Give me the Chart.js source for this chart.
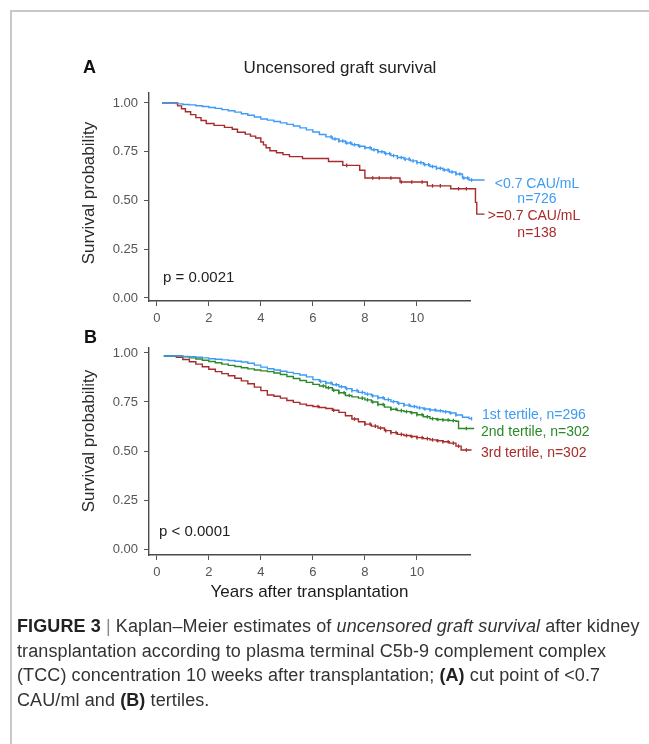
<!DOCTYPE html>
<html><head><meta charset="utf-8">
<script src="https://cdn.jsdelivr.net/npm/chart.js@4/dist/chart.umd.min.js"></script>
<style>
html,body{margin:0;padding:0;background:#fff;width:649px;height:744px;overflow:hidden;font-family:"Liberation Sans",Arial,sans-serif;}
#frame{position:absolute;left:10px;top:10px;width:700px;height:800px;border:2px solid #c8c8c8;box-sizing:border-box;}
canvas{position:absolute;left:0;}
#caption{position:absolute;left:17px;top:614px;width:640px;font-size:18px;letter-spacing:0.1px;line-height:24.7px;color:#333;white-space:nowrap;}
#caption b{font-weight:bold;color:#222;}
#caption .bar{color:#888;}
</style></head><body>
<div id="frame"></div>
<canvas id="cA" width="649" height="340" style="top:0;width:649px;height:340px"></canvas>
<canvas id="cB" width="649" height="300" style="top:310px;width:649px;height:300px"></canvas>
<div id="caption"><b>FIGURE 3</b> <span class="bar">|</span> Kaplan–Meier estimates of <i>uncensored graft survival</i> after kidney<br>transplantation according to plasma terminal C5b-9 complement complex<br>(TCC) concentration 10 weeks after transplantation; <b>(A)</b> cut point of &lt;0.7<br>CAU/ml and <b>(B)</b> tertiles.</div>
<script>
// ---------- DATA ----------
const xTicks = [0, 2, 4, 6, 8, 10];
const yTicks = [0, 0.25, 0.5, 0.75, 1];

// Panel A: <0.7 CAU/mL (n=726)
const timeA_low = [0.2,0.5,0.75,1,1.25,1.5,1.75,2,2.25,2.5,2.75,3,3.25,3.5,3.75,4,4.25,4.5,4.75,5,5.25,5.5,5.75,6,6.25,6.5,6.75,7,7.25,7.5,7.75,8,8.25,8.5,8.75,9,9.25,9.5,9.75,10,10.25,10.5,10.75,11,11.25,11.5,11.75,12,12.6];
const survA_low = [1.000,0.998,0.995,0.992,0.990,0.986,0.982,0.977,0.972,0.966,0.960,0.953,0.945,0.937,0.928,0.918,0.912,0.905,0.898,0.890,0.882,0.872,0.862,0.851,0.838,0.826,0.815,0.805,0.795,0.786,0.778,0.770,0.760,0.750,0.740,0.730,0.720,0.712,0.703,0.694,0.684,0.674,0.665,0.656,0.646,0.636,0.615,0.605,0.605];
const censA_low = [6.7,6.85,7.0,7.15,7.3,7.45,7.6,7.8,8.0,8.2,8.35,8.5,8.65,8.8,8.95,9.1,9.25,9.4,9.55,9.7,9.85,10.0,10.15,10.3,10.45,10.6,10.75,10.9,11.05,11.2,11.35,11.5,11.65,11.8,11.95,12.1,12.25,12.4,12.55];

// Panel A: >=0.7 CAU/mL (n=138)
const timeA_high = [0.2,0.8,0.95,1.1,1.3,1.5,1.7,1.9,2.2,2.6,2.9,3.1,3.4,3.6,3.8,4.0,4.1,4.2,4.35,4.6,4.85,5.1,5.6,6.6,7.15,7.8,8.0,9.35,10.4,11.3,12.25,12.3,12.6];
const survA_high = [1.000,0.985,0.970,0.955,0.940,0.925,0.910,0.895,0.885,0.875,0.865,0.850,0.840,0.830,0.820,0.800,0.785,0.770,0.755,0.745,0.735,0.725,0.715,0.700,0.680,0.655,0.615,0.595,0.575,0.560,0.490,0.430,0.430];
const censA_high = [7.3,8.3,8.55,9.0,9.4,9.8,10.2,10.6,10.9,11.6,11.9,12.45];

// Panel B: 1st tertile (n=296)
const timeB_1 = [0.27,0.75,1.0,1.25,1.5,1.75,2.0,2.25,2.5,2.75,3.0,3.25,3.5,3.75,4.0,4.25,4.5,4.75,5.0,5.25,5.5,5.75,6.0,6.25,6.5,6.75,7.0,7.25,7.5,7.75,8.0,8.25,8.5,8.75,9.0,9.25,9.5,9.75,10.0,10.25,10.5,10.75,11.0,11.25,11.5,11.75,12.0,12.1];
const survB_1 = [0.985,0.985,0.983,0.981,0.978,0.975,0.971,0.968,0.965,0.962,0.958,0.954,0.948,0.938,0.928,0.920,0.913,0.907,0.901,0.895,0.888,0.878,0.864,0.855,0.847,0.838,0.828,0.818,0.808,0.799,0.790,0.781,0.772,0.762,0.752,0.743,0.734,0.727,0.720,0.714,0.709,0.705,0.700,0.694,0.684,0.672,0.665,0.665];
const censB_1 = [6.3,6.5,6.7,6.9,7.1,7.3,7.5,7.7,7.9,8.1,8.3,8.5,8.7,8.9,9.1,9.3,9.5,9.7,9.9,10.1,10.3,10.5,10.7,10.9,11.1,11.3,11.5,12.1];

// Panel B: 2nd tertile (n=302)
const timeB_2 = [0.27,0.9,1.0,1.25,1.5,1.75,2.0,2.25,2.5,2.75,3.0,3.25,3.5,3.75,4.0,4.25,4.5,4.75,5.0,5.25,5.5,5.75,6.0,6.25,6.5,6.75,7.0,7.25,7.5,7.75,8.0,8.25,8.5,8.75,9.0,9.25,9.5,9.75,10.0,10.25,10.5,10.75,11.0,11.25,11.5,11.6,12.2];
const survB_2 = [0.985,0.985,0.980,0.975,0.969,0.963,0.957,0.950,0.943,0.937,0.931,0.925,0.919,0.913,0.909,0.905,0.898,0.890,0.880,0.870,0.860,0.850,0.840,0.832,0.823,0.810,0.797,0.783,0.776,0.770,0.761,0.750,0.737,0.724,0.713,0.706,0.701,0.695,0.685,0.675,0.665,0.661,0.658,0.655,0.652,0.615,0.615];
const censB_2 = [6.4,6.6,6.8,7.0,7.2,7.4,7.9,8.1,8.3,8.5,8.7,9.0,9.2,9.4,9.6,9.8,10.0,10.2,10.4,10.6,10.8,11.0,11.2,11.4,11.9];

// Panel B: 3rd tertile (n=302)
const timeB_3 = [0.27,0.65,0.75,1.0,1.25,1.5,1.75,2.0,2.25,2.5,2.75,3.0,3.25,3.5,3.75,4.0,4.25,4.5,4.75,5.0,5.25,5.5,5.75,6.0,6.25,6.5,6.75,7.0,7.25,7.5,7.75,8.0,8.25,8.5,8.75,9.0,9.25,9.5,9.75,10.0,10.25,10.5,10.75,11.0,11.25,11.5,11.7,12.1];
const survB_3 = [0.985,0.985,0.978,0.967,0.955,0.943,0.930,0.917,0.905,0.895,0.884,0.871,0.858,0.843,0.826,0.808,0.786,0.779,0.770,0.758,0.748,0.739,0.732,0.727,0.722,0.717,0.708,0.697,0.680,0.663,0.649,0.637,0.627,0.617,0.604,0.594,0.585,0.579,0.574,0.568,0.563,0.557,0.552,0.547,0.540,0.525,0.505,0.505];
const censB_3 = [6.2,6.8,7.6,8.0,8.2,8.4,8.6,8.8,9.0,9.2,9.4,9.6,9.8,10.0,10.2,10.4,10.6,10.8,11.0,11.2,11.4,11.6,11.9];

// ---------- COLOURS ----------
const BLUE = '#3d9bf5', RED = '#a82a2a', GREEN = '#2a8a2a';
const FONT = '"Liberation Sans", Arial, sans-serif';

function pts(t, s) { return t.map((x, i) => ({ x: x, y: s[i] })); }
function stepAt(t, s, c) { let v = s[0]; for (let i = 0; i < t.length; i++) { if (t[i] <= c) v = s[i]; } return v; }
function curve(t, s, color) {
  return { type: 'line', data: pts(t, s), borderColor: color, borderWidth: 1.4, stepped: true, pointRadius: 0, fill: false, clip: false };
}
function cens(t, s, c, color) {
  return { type: 'scatter', data: c.map(x => ({ x: x, y: stepAt(t, s, x) })), borderColor: color, backgroundColor: color,
    pointStyle: 'line', rotation: 90, pointRadius: 1.8, borderWidth: 1.3, clip: false, showLine: false };
}

const annot = {
  id: 'annot',
  afterDraw(chart) {
    const o = chart.options.plugins.annot;
    const ctx = chart.ctx;
    ctx.save();
    (o.items || []).forEach(a => {
      ctx.font = a.font; ctx.fillStyle = a.color; ctx.textAlign = a.align || 'left'; ctx.textBaseline = 'alphabetic';
      ctx.fillText(a.text, a.x, a.y);
    });
    if (o.yTitle) {
      ctx.translate(o.yTitle.x, o.yTitle.y);
      ctx.rotate(-Math.PI / 2);
      ctx.font = '17px ' + FONT; ctx.fillStyle = '#2a2a2a'; ctx.textAlign = 'center'; ctx.textBaseline = 'middle';
      ctx.fillText(o.yTitle.text, 0, 0);
    }
    ctx.restore();
  }
};

function makeChart(id, datasets, cfg) {
  return new Chart(document.getElementById(id), {
    type: 'line',
    data: { datasets: datasets },
    plugins: [annot],
    options: {
      responsive: false, animation: false, devicePixelRatio: 1,
      layout: { padding: { top: cfg.padTop, left: 75, right: 179, bottom: 0 } },
      plugins: { legend: { display: false }, tooltip: { enabled: false }, annot: { items: cfg.items, yTitle: cfg.yTitle } },
      scales: {
        x: {
          type: 'linear', bounds: 'data',
          afterDataLimits: s => { s.min = -0.3; s.max = 12.04; },
          afterBuildTicks: s => { s.ticks = xTicks.map(v => ({ value: v })); },
          afterFit: s => { s.height = cfg.xH; },
          grid: { drawOnChartArea: false, drawTicks: true, tickLength: 5, color: '#555', lineWidth: 1 },
          border: { display: true, color: '#4a4a4a', width: 1.4 },
          ticks: { padding: 5, color: '#555', font: { size: 13, family: FONT }, maxRotation: 0 },
          title: cfg.xTitle ? { display: true, text: cfg.xTitle, color: '#1a1a1a', font: { size: 17, family: FONT }, padding: { top: 0, bottom: 7.8 } } : { display: false }
        },
        y: {
          type: 'linear', min: cfg.yMin, max: cfg.yMax,
          afterBuildTicks: s => { s.ticks = yTicks.map(v => ({ value: v })); },
          afterFit: s => { s.width = 74; },
          grid: { drawOnChartArea: false, drawTicks: true, tickLength: 5, color: '#555', lineWidth: 1 },
          border: { display: true, color: '#4a4a4a', width: 1.4 },
          ticks: { padding: 6, color: '#555', font: { size: 13, family: FONT }, callback: v => Number(v).toFixed(2) },
          title: { display: false }
        }
      }
    }
  });
}

makeChart('cA', [
  curve(timeA_low, survA_low, BLUE),
  curve(timeA_high, survA_high, RED),
  cens(timeA_low, survA_low, censA_low, BLUE),
  cens(timeA_high, survA_high, censA_high, RED)
], {
  padTop: 93, xH: 39, yMin: -0.0154, yMax: 1.051,
  yTitle: { text: 'Survival probability', x: 89, y: 193 },
  items: [
    { text: 'A', x: 83, y: 73, font: 'bold 18px ' + FONT, color: '#111' },
    { text: 'Uncensored graft survival', x: 340, y: 73, font: '17px ' + FONT, color: '#222', align: 'center' },
    { text: 'p = 0.0021', x: 163, y: 282, font: '15px ' + FONT, color: '#222' },
    { text: '<0.7 CAU/mL', x: 537, y: 188, font: '14px ' + FONT, color: BLUE, align: 'center' },
    { text: 'n=726', x: 537, y: 203, font: '14px ' + FONT, color: BLUE, align: 'center' },
    { text: '>=0.7 CAU/mL', x: 534, y: 220, font: '14px ' + FONT, color: RED, align: 'center' },
    { text: 'n=138', x: 537, y: 237, font: '14px ' + FONT, color: RED, align: 'center' }
  ]
});

makeChart('cB', [
  curve(timeB_1, survB_1, BLUE),
  curve(timeB_2, survB_2, GREEN),
  curve(timeB_3, survB_3, RED),
  cens(timeB_1, survB_1, censB_1, BLUE),
  cens(timeB_2, survB_2, censB_2, GREEN),
  cens(timeB_3, survB_3, censB_3, RED)
], {
  padTop: 38, xH: 55, yMin: -0.0306, yMax: 1.0255, xTitle: 'Years after transplantation',
  yTitle: { text: 'Survival probability', x: 89, y: 131 },
  items: [
    { text: 'B', x: 84, y: 33, font: 'bold 18px ' + FONT, color: '#111' },
    { text: 'p < 0.0001', x: 159, y: 226, font: '15px ' + FONT, color: '#222' },
    { text: '1st tertile, n=296', x: 482, y: 109, font: '14px ' + FONT, color: BLUE },
    { text: '2nd tertile, n=302', x: 481, y: 126, font: '14px ' + FONT, color: GREEN },
    { text: '3rd tertile, n=302', x: 481, y: 147, font: '14px ' + FONT, color: RED }
  ]
});
</script>
</body></html>
